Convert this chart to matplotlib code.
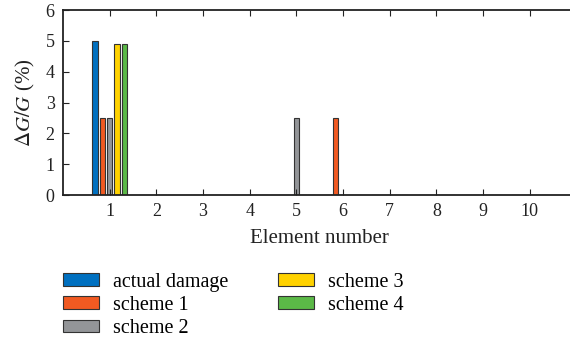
import numpy as np
import matplotlib
matplotlib.use('Agg')
import matplotlib.pyplot as plt

plt.rcParams['font.family'] = 'Liberation Serif'
plt.rcParams['mathtext.fontset'] = 'stix'

elements = np.arange(1, 11)
labels = ['actual damage', 'scheme 1', 'scheme 2', 'scheme 3', 'scheme 4']
actual = [5.0, 0, 0, 0, 0, 0, 0, 0, 0, 0]
scheme1 = [2.5, 0, 0, 0, 0, 2.5, 0, 0, 0, 0]
scheme2 = [2.5, 0, 0, 0, 2.5, 0, 0, 0, 0, 0]
scheme3 = [4.9, 0, 0, 0, 0, 0, 0, 0, 0, 0]
scheme4 = [4.9, 0, 0, 0, 0, 0, 0, 0, 0, 0]
series = [actual, scheme1, scheme2, scheme3, scheme4]
colors = ['#0070C0', '#F15A22', '#939598', '#FFD200', '#5BB947']

fig = plt.figure(figsize=(5.7, 3.51), dpi=100)
ax = fig.add_axes([0.1105, 0.4444, 0.901, 0.527])

step = 0.158
width = 0.115
for i, (vals, lab, c) in enumerate(zip(series, labels, colors)):
    ax.bar(elements + (i - 2) * step, vals, width, color=c, edgecolor='#333333',
           linewidth=0.8, label=lab)

ax.set_xlim(0, 11)
ax.set_ylim(0, 6)
ax.set_xticks(elements)
ax.set_yticks(range(7))
ax.tick_params(direction='in', top=True, right=False, labelsize=13, length=4,
               width=0.8, colors='#222222', pad=6)
for s in ['left', 'bottom', 'top']:
    ax.spines[s].set_linewidth(1.3)
    ax.spines[s].set_color('#222222')
ax.spines['right'].set_visible(False)

ax.set_xlabel('Element number', fontsize=15, color='#222222', labelpad=6)
ax.set_ylabel(r'$\Delta G/G$ (%)', fontsize=15, color='#222222', labelpad=6)

fig.legend(loc='upper left', bbox_to_anchor=(0.078, 0.274), ncol=2, frameon=False,
           fontsize=14.5, handlelength=1.8, handleheight=0.6, columnspacing=2.45,
           labelspacing=0.2, handletextpad=0.7)

fig.savefig('out.png', dpi=100)
